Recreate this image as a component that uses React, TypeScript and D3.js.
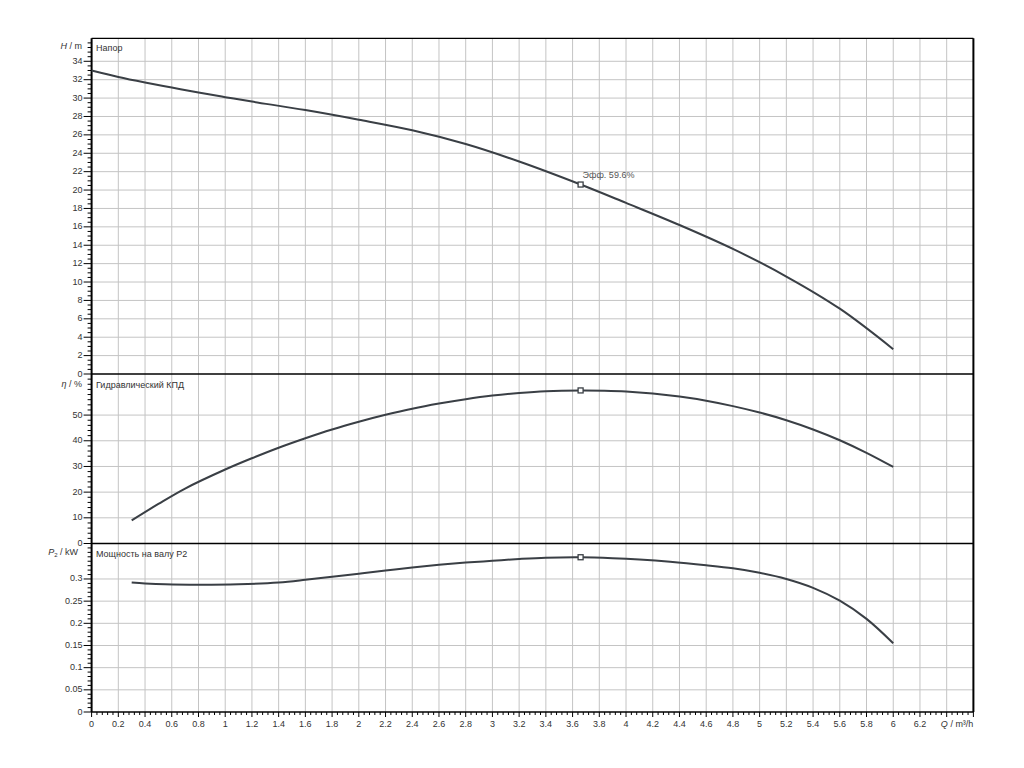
import React from "react";
import * as d3 from "d3";

// ---- Data ----
const flowH = [0, 0.2, 0.4, 0.6, 0.8, 1.0, 1.2, 1.6, 2.0, 2.4, 2.8, 3.2, 3.66, 4.0, 4.4, 4.8, 5.2, 5.6, 6.0];
const head = [33.0, 32.3, 31.7, 31.15, 30.6, 30.1, 29.62, 28.7, 27.65, 26.5, 25.0, 23.1, 20.6, 18.6, 16.2, 13.6, 10.6, 7.1, 2.7];

const flowEta = [0.3, 0.5, 0.7, 1.0, 1.2, 1.4, 1.6, 1.8, 2.0, 2.2, 2.4, 2.6, 2.8, 3.0, 3.2, 3.4, 3.66, 3.84, 4.0, 4.2, 4.4, 4.6, 4.8, 5.0, 5.2, 5.4, 5.6, 5.8, 6.0];
const eta = [9.0, 15.4, 21.4, 28.8, 33.2, 37.3, 41.0, 44.4, 47.4, 50.1, 52.5, 54.5, 56.2, 57.6, 58.6, 59.3, 59.6, 59.5, 59.2, 58.4, 57.2, 55.6, 53.5, 51.0, 48.0, 44.4, 40.2, 35.3, 29.8];

const flowP = [0.3, 0.4, 0.55, 0.8, 1.1, 1.4, 1.6, 1.8, 2.0, 2.2, 2.4, 2.6, 2.8, 3.0, 3.2, 3.4, 3.66, 3.9, 4.1, 4.33, 4.6, 4.8, 5.0, 5.2, 5.4, 5.6, 5.8, 6.0];
const power = [0.292, 0.290, 0.288, 0.287, 0.288, 0.292, 0.298, 0.305, 0.312, 0.319, 0.326, 0.332, 0.337, 0.341, 0.345, 0.348, 0.349, 0.347, 0.344, 0.339, 0.331, 0.324, 0.314, 0.300, 0.280, 0.251, 0.210, 0.155];

const dutyQ = 3.66;
const dutyH = 20.6;
const dutyEta = 59.6;
const dutyP = 0.349;
const dutyLabel = "Эфф. 59.6%";

const xTickValues = [0, 0.2, 0.4, 0.6, 0.8, 1, 1.2, 1.4, 1.6, 1.8, 2, 2.2, 2.4, 2.6, 2.8, 3, 3.2, 3.4, 3.6, 3.8, 4, 4.2, 4.4, 4.6, 4.8, 5, 5.2, 5.4, 5.6, 5.8, 6, 6.2];
const hTicks = [0, 2, 4, 6, 8, 10, 12, 14, 16, 18, 20, 22, 24, 26, 28, 30, 32, 34];
const etaTicks = [10, 20, 30, 40, 50];
const pTicks = [0, 0.05, 0.1, 0.15, 0.2, 0.25, 0.3];

const panelTitles = ["Напор", "Гидравлический КПД", "Мощность на валу P2"];

// ---- Layout ----
const L = 91.6, R = 973.4;
const topY = 38.3, sep1 = 374, sep2 = 543.5, bottomY = 712;
const FONT = "'Liberation Sans', Arial, sans-serif";
const LINE = "#3a3f45";
const GRID = "#c4c4c4";
const TXT = "#333";

export default function App() {
  const x = d3.scaleLinear().domain([0, 6.6]).range([L, R]);
  const yH = d3.scaleLinear().domain([0, 36.5]).range([sep1, topY]);
  const yE = d3.scaleLinear().domain([0, 66]).range([sep2, sep1]);
  const yP = d3.scaleLinear().domain([0, 0.38]).range([bottomY, sep2]);

  const mk = (xs: number[], ys: number[], ys2: d3.ScaleLinear<number, number>) =>
    d3.line<number>().x((_, i) => x(xs[i])).y((_, i) => ys2(ys[i])).curve(d3.curveCatmullRom.alpha(0.5))(xs) || "";

  const xGrid = d3.range(1, 33).map((i) => i * 0.2);
  const xMinor = d3.range(0, 166).map((i) => i * 0.04);

  const hMinor = d3.range(0, 73).map((i) => i * 0.5);
  const eMinor = d3.range(0, 33).map((i) => i * 2);
  const pMinor = d3.range(0, 38).map((i) => i * 0.01);

  const fmt = (v: number) => String(+v.toFixed(2));

  return (
    <svg width={1024} height={768} style={{ position: "absolute", left: 0, top: 0, background: "#fff" }} fontFamily={FONT}>
      <rect x={0} y={0} width={1024} height={768} fill="#fff" />
      {/* vertical grid */}
      {xGrid.map((q) => (
        <line key={"vg" + q} x1={x(q)} x2={x(q)} y1={topY} y2={bottomY} stroke={GRID} strokeWidth={1} />
      ))}
      {/* horizontal grids */}
      {hTicks.filter((v) => v > 0).map((v) => (
        <line key={"hg" + v} x1={L} x2={R} y1={yH(v)} y2={yH(v)} stroke={GRID} />
      ))}
      {etaTicks.map((v) => (
        <line key={"eg" + v} x1={L} x2={R} y1={yE(v)} y2={yE(v)} stroke={GRID} />
      ))}
      {pTicks.filter((v) => v > 0).map((v) => (
        <line key={"pg" + v} x1={L} x2={R} y1={yP(v)} y2={yP(v)} stroke={GRID} />
      ))}

      {/* frame */}
      <line x1={L} x2={R} y1={topY} y2={topY} stroke="#000" strokeWidth={1.2} />
      <line x1={R} x2={R} y1={topY} y2={bottomY} stroke="#000" strokeWidth={2} />
      <line x1={L} x2={R} y1={sep1} y2={sep1} stroke="#000" strokeWidth={1.3} />
      <line x1={L} x2={R} y1={sep2} y2={sep2} stroke="#000" strokeWidth={1.3} />
      <line x1={L} x2={R} y1={bottomY} y2={bottomY} stroke="#000" strokeWidth={1.5} />
      <line x1={L} x2={L} y1={topY} y2={bottomY} stroke="#000" strokeWidth={2} />

      {/* y ticks */}
      {hMinor.filter((v) => yH(v) >= topY).map((v) => {
        const major = Math.abs(v % 2) < 1e-6 && v <= 34;
        return <line key={"ht" + v} x1={L - (major ? 8 : 4)} x2={L} y1={yH(v)} y2={yH(v)} stroke="#000" />;
      })}
      {eMinor.filter((v) => yE(v) >= sep1).map((v) => {
        const major = Math.abs(v % 10) < 1e-6 && v <= 50;
        return <line key={"et" + v} x1={L - (major ? 8 : 4)} x2={L} y1={yE(v)} y2={yE(v)} stroke="#000" />;
      })}
      {pMinor.filter((v) => yP(v) >= sep2).map((v) => {
        const major = Math.abs((v * 100) % 5) < 1e-6 && v <= 0.3;
        return <line key={"pt" + v} x1={L - (major ? 8 : 4)} x2={L} y1={yP(v)} y2={yP(v)} stroke="#000" />;
      })}

      {/* y labels */}
      {hTicks.map((v) => (
        <text key={"hl" + v} x={L - 9} y={yH(v) + 2.5} fontSize={9} textAnchor="end" fill={TXT}>{v}</text>
      ))}
      <text x={L - 9} y={sep2 + 2} fontSize={9} textAnchor="end" fill={TXT}>0</text>
      {etaTicks.map((v) => (
        <text key={"el" + v} x={L - 9} y={yE(v) + 2.5} fontSize={9} textAnchor="end" fill={TXT}>{v}</text>
      ))}
      {pTicks.map((v) => (
        <text key={"pl" + v} x={L - 9} y={yP(v) + 2.5} fontSize={9} textAnchor="end" fill={TXT}>{fmt(v)}</text>
      ))}

      {/* axis titles */}
      <text x={82} y={49} fontSize={9} textAnchor="end" fill={TXT}>
        <tspan fontStyle="italic">H</tspan> / m
      </text>
      <text x={82} y={387} fontSize={9} textAnchor="end" fill={TXT}>
        <tspan fontStyle="italic">η</tspan> / %
      </text>
      <text x={78} y={555} fontSize={9} textAnchor="end" fill={TXT}>
        <tspan fontStyle="italic">P</tspan><tspan fontSize={6} dy={2}>2</tspan><tspan dy={-2}> / kW</tspan>
      </text>

      {/* x ticks */}
      {xMinor.filter((q) => q <= 6.6 + 1e-6).map((q, i) => {
        const major = i % 5 === 0;
        return <line key={"xt" + i} x1={x(q)} x2={x(q)} y1={bottomY} y2={bottomY + (major ? 5 : 3)} stroke="#000" />;
      })}
      {xTickValues.map((q) => (
        <text key={"xl" + q} x={x(q)} y={727} fontSize={9} textAnchor="middle" fill={TXT}>{fmt(q)}</text>
      ))}
      <text x={R} y={727} fontSize={9} textAnchor="end" fill={TXT}>
        <tspan fontStyle="italic">Q</tspan> / m³/h
      </text>

      {/* panel titles */}
      <text x={96} y={51} fontSize={9} fill={TXT}>{panelTitles[0]}</text>
      <text x={96} y={388} fontSize={9} fill={TXT}>{panelTitles[1]}</text>
      <text x={96} y={557} fontSize={9} fill={TXT}>{panelTitles[2]}</text>

      {/* curves */}
      <path d={mk(flowH, head, yH)} fill="none" stroke={LINE} strokeWidth={2} />
      <path d={mk(flowEta, eta, yE)} fill="none" stroke={LINE} strokeWidth={2} />
      <path d={mk(flowP, power, yP)} fill="none" stroke={LINE} strokeWidth={2} />

      {/* duty markers */}
      {[yH(dutyH), yE(dutyEta), yP(dutyP)].map((yy, i) => (
        <rect key={"m" + i} x={x(dutyQ) - 2.5} y={yy - 2.5} width={5} height={5} fill="#fff" stroke={LINE} strokeWidth={1.3} />
      ))}
      <text x={x(dutyQ) + 2} y={178} fontSize={9} fill="#555">{dutyLabel}</text>
    </svg>
  );
}
